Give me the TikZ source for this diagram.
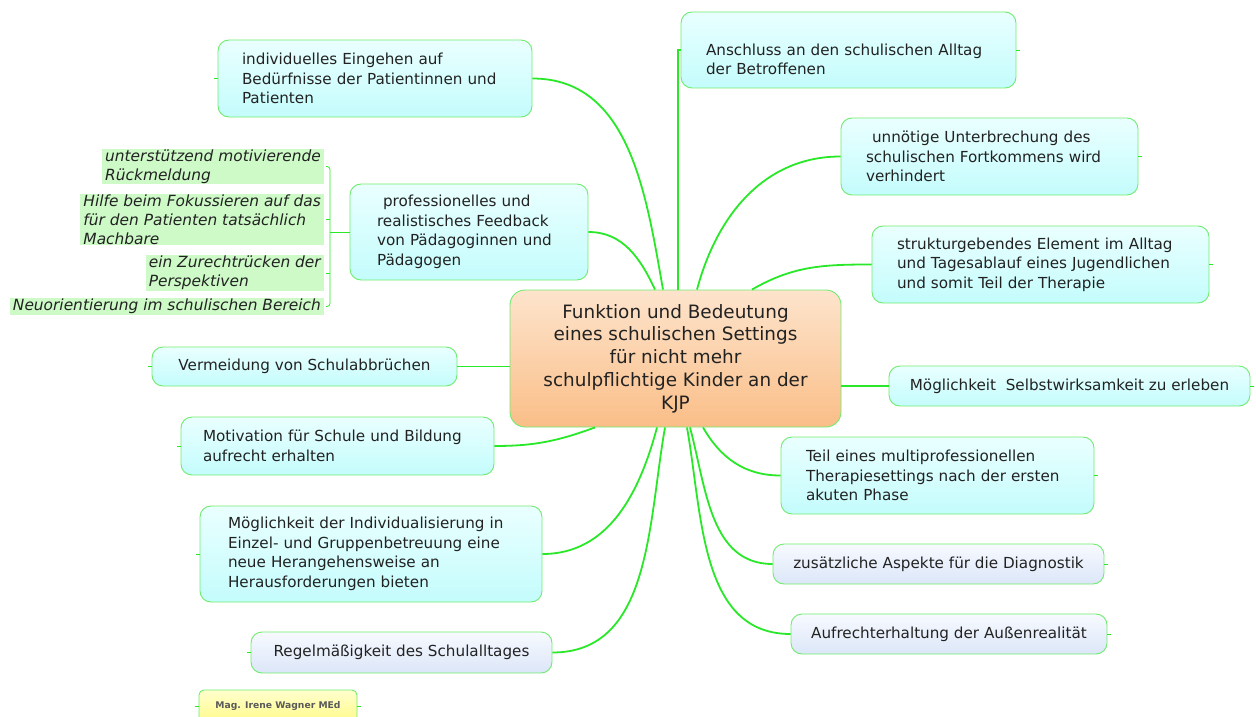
\documentclass[tikz,border=0pt]{standalone}
\usepackage{fontspec}
\setmainfont{DejaVu Sans}
\definecolor{vertLien}{RGB}{40,232,40}
\definecolor{vertBord}{RGB}{110,236,110}
\definecolor{vertNote}{RGB}{206,250,200}
\definecolor{cyanHaut}{RGB}{234,255,255}
\definecolor{cyanBas}{RGB}{196,252,252}
\definecolor{lavHaut}{RGB}{247,250,255}
\definecolor{lavBas}{RGB}{220,230,248}
\definecolor{orHaut}{RGB}{253,228,204}
\definecolor{orBas}{RGB}{250,190,136}
\definecolor{jauneHaut}{RGB}{255,255,204}
\definecolor{jauneBas}{RGB}{255,250,140}
\definecolor{texte}{RGB}{34,34,34}
\definecolor{gris}{RGB}{90,90,90}
\begin{document}
\begin{tikzpicture}[x=1pt,y=-1pt]
	% Styles
	\tikzstyle{branche}=[-,draw=vertLien,line width=1.8pt]
	\tikzstyle{crochet}=[-,draw=vertLien,line width=0.8pt,rounded corners=3pt]
	\tikzstyle{taquet}=[-,draw=vertLien,line width=0.8pt]
	\tikzstyle{bulle}=[draw=vertBord,line width=0.9pt,rounded corners=11pt,top color=cyanHaut,bottom color=cyanBas,text=texte,align=left,inner sep=0pt,font=\fontsize{15.2}{19.5}\selectfont]
	\tikzstyle{pale}=[bulle,top color=lavHaut,bottom color=lavBas,align=center]
	\tikzstyle{centre}=[bulle,rounded corners=15pt,top color=orHaut,bottom color=orBas,align=center,font=\fontsize{18.4}{22.8}\selectfont]
	\tikzstyle{note}=[fill=vertNote,text=texte,align=left,anchor=east,inner xsep=3pt,inner ysep=1pt,font=\itshape\fontsize{15.4}{19}\selectfont]
	\tikzstyle{signature}=[bulle,rounded corners=5pt,top color=jauneHaut,bottom color=jauneBas,align=center,text=gris,font=\bfseries\fontsize{9.2}{11}\selectfont]
	\useasboundingbox (0,0) rectangle (1256,717);
	% Noeud central
	\node[centre,minimum width=331,minimum height=137] (K) at (675.5,358.5) {Funktion und Bedeutung\\eines schulischen Settings\\für nicht mehr\\schulpflichtige Kinder an der\\KJP};
	% Noeuds a droite
	\node[bulle,minimum width=335,minimum height=76,text width=285] (Anschluss) at (848.5,50) {\rule{0pt}{30pt}Anschluss an den schulischen Alltag\\der Betroffenen};
	\node[bulle,minimum width=297,minimum height=77,text width=247] (Unterbrechung) at (989.5,156.5) {\hspace*{6pt}unnötige Unterbrechung des\\schulischen Fortkommens wird\\verhindert};
	\node[bulle,minimum width=337,minimum height=77,text width=287] (Struktur) at (1040.5,264.5) {strukturgebendes Element im Alltag\\und Tagesablauf eines Jugendlichen\\und somit Teil der Therapie};
	\node[bulle,align=center,minimum width=361,minimum height=40] (Selbst) at (1069.5,386) {Möglichkeit\ \ Selbstwirksamkeit zu erleben};
	\node[bulle,minimum width=313,minimum height=77,text width=263] (Teil) at (937.5,475.5) {Teil eines multiprofessionellen\\Therapiesettings nach der ersten\\akuten Phase};
	\node[pale,minimum width=331,minimum height=40] (Diagnostik) at (938.5,564) {zusätzliche Aspekte für die Diagnostik};
	\node[pale,minimum width=316,minimum height=40] (Aussen) at (949,634) {Aufrechterhaltung der Außenrealität};
	% Noeuds a gauche
	\node[bulle,minimum width=314,minimum height=77,text width=266] (Eingehen) at (375,78.5) {individuelles Eingehen auf\\Bedürfnisse der Patientinnen und\\Patienten};
	\node[bulle,minimum width=238,minimum height=96,text width=184] (Feedback) at (469,232) {\hspace*{6pt}professionelles und\\realistisches Feedback\\von Pädagoginnen und\\Pädagogen};
	\node[bulle,align=center,minimum width=305,minimum height=39] (Abbruch) at (304.5,366.5) {Vermeidung von Schulabbrüchen};
	\node[bulle,minimum width=313,minimum height=58,text width=269] (Motivation) at (337.5,446) {Motivation für Schule und Bildung\\aufrecht erhalten};
	\node[bulle,minimum width=342,minimum height=96,text width=286] (Individual) at (371,554) {Möglichkeit der Individualisierung in\\Einzel- und Gruppenbetreuung eine\\neue Herangehensweise an\\Herausforderungen bieten};
	\node[pale,minimum width=301,minimum height=41] (Alltag) at (401.5,652.5) {Regelmäßigkeit des Schulalltages};
	\node[signature,minimum width=158,minimum height=32] (Auteur) at (278,706) {Mag. Irene Wagner MEd};
	% Notes
	\node[note] (Na) at (324,166.5) {unterstützend motivierende\\Rückmeldung};
	\node[note] (Nb) at (324,219.5) {Hilfe beim Fokussieren auf das\\für den Patienten tatsächlich\\Machbare};
	\node[note] (Nc) at (324,273) {ein Zurechtrücken der\\Perspektiven};
	\node[note] (Nd) at (324,306.5) {Neuorientierung im schulischen Bereich};
	% Crochet
	\coordinate (Pivot) at (330,232);
	\draw[crochet] ([xshift=2pt]Na.east) -| (Pivot |- Nd.east) -- ([xshift=2pt]Nd.east);
	\draw[taquet] ([xshift=2pt]Nb.east) -- (Pivot |- Nb.east);
	\draw[taquet] ([xshift=2pt]Nc.east) -- (Pivot |- Nc.east);
	\draw[taquet] (Pivot) -- (Feedback.west);
	% Branches
	\coordinate (Ka) at ([xshift=2.5pt]K.north);
	\draw[branche] ([xshift=-12.5pt]K.north) to[out=100,in=0] (Eingehen.east);
	\draw[branche] ([xshift=-20.5pt]K.north) to[out=115,in=0] (Feedback.east);
	\draw[branche] (Ka) -- (Ka |- Anschluss.west) -- (Anschluss.west);
	\draw[branche] ([xshift=21.5pt]K.north) to[out=75,in=180] (Unterbrechung.west);
	\draw[branche] ([xshift=76.5pt]K.north) to[out=30,in=180] (Struktur.west);
	\draw[branche] (Selbst.west -| K.east) -- (Selbst.west);
	\draw[branche] ([xshift=27.5pt]K.south) to[out=-60,in=180] (Teil.west);
	\draw[branche] ([xshift=14.5pt]K.south) to[out=-75,in=180] (Diagnostik.west);
	\draw[branche] ([xshift=11.5pt]K.south) to[out=-80,in=180] (Aussen.west);
	\draw[branche] ([xshift=-10.5pt]K.south) to[out=-100,in=0] (Alltag.east);
	\draw[branche] ([xshift=-18.5pt]K.south) to[out=-105,in=0] (Individual.east);
	\draw[branche] ([xshift=-80.5pt]K.south) to[out=-160,in=0] (Motivation.east);
	\draw[branche] (Abbruch.east) -- (Abbruch.east -| K.west);
	% Taquets
	\foreach \n in {Eingehen,Abbruch,Motivation,Individual,Alltag,Auteur}
		\draw[taquet] (\n.west) -- ++(-4,0);
	\foreach \n in {Anschluss,Unterbrechung,Struktur,Selbst,Teil,Diagnostik,Aussen,Auteur}
		\draw[taquet] (\n.east) -- ++(4,0);
\end{tikzpicture}
\end{document}
